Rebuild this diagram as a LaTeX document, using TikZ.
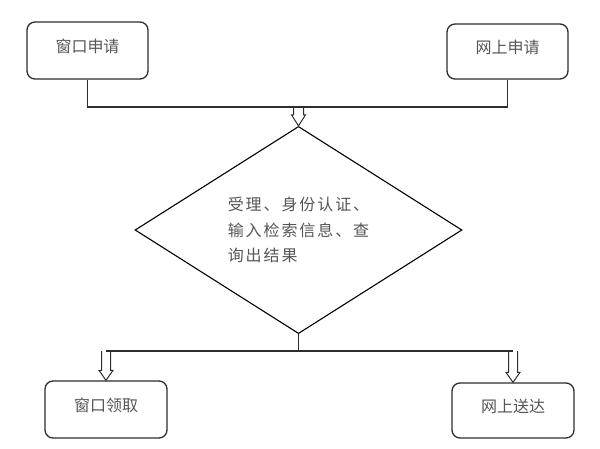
\documentclass[tikz,border=0pt]{standalone}
\usepackage{fontspec}
\newfontfamily\cjk{Noto Sans CJK SC}
\newfontfamily\cjkw[LetterSpace=12]{Noto Sans CJK SC}
\usetikzlibrary{shapes.geometric,calc}
\definecolor{txtgray}{RGB}{85,85,85}
\definecolor{linegray}{RGB}{45,45,45}
\newcommand\hollowarrow[5]{%
  \draw[harrow] ($(#1)+(-#3,0)$) -- ($(#2)+(-#3,-#5)$) -- ($(#2)+(-#4,-#5)$) -- (#2)
    -- ($(#2)+(#4,-#5)$) -- ($(#2)+(#3,-#5)$) -- ($(#1)+(#3,0)$);
}
\tikzset{
  box/.style={draw=linegray, line width=1.3pt, rounded corners=8pt, inner sep=0pt,
    text=txtgray, font=\cjk\fontsize{16}{20}\selectfont, text height=12pt, text depth=9pt},
  decision/.style={diamond, draw=black, line width=1.1pt, inner sep=0pt,
    minimum width=327pt, minimum height=176pt, align=left, text=txtgray,
    font=\cjkw\fontsize{16}{25.5}\selectfont},
  conn/.style={draw=linegray, line width=1.2pt},
  harrow/.style={draw=linegray, line width=1pt, line join=miter},
}
\begin{document}
\begin{tikzpicture}[x=1pt,y=-1pt]
\useasboundingbox (0,0) rectangle (600,448);
\node[box, minimum width=121pt, minimum height=57pt] (b1) at (87.5,50.5) {窗口申请};
\node[box, minimum width=121pt, minimum height=55pt] (b2) at (507.5,51.5) {网上申请};
\node[decision] (d) at (298.5,230) {受理、身份认证、\\输入检索信息、查\\询出结果};
\node[box, minimum width=122pt, minimum height=57pt] (b3) at (106,409.5) {窗口领取};
\node[box, minimum width=122pt, minimum height=55pt] (b4) at (513,410.5) {网上送达};
\coordinate (jt) at (298.5,107);
\coordinate (jb) at (298.5,351);
\draw[conn] (b1.south) |- (jt) -| (b2.south);
\hollowarrow{jt}{d.north}{5}{7}{11}
\draw[conn] (d.south) -- (jb);
\coordinate (la) at (b3.north |- jb);
\coordinate (ra) at (b4.north |- jb);
\draw[conn] (la) -- (ra);
\hollowarrow{la}{b3.north}{4.5}{7}{10}
\hollowarrow{ra}{b4.north}{4.5}{7}{10}
\end{tikzpicture}
\end{document}
